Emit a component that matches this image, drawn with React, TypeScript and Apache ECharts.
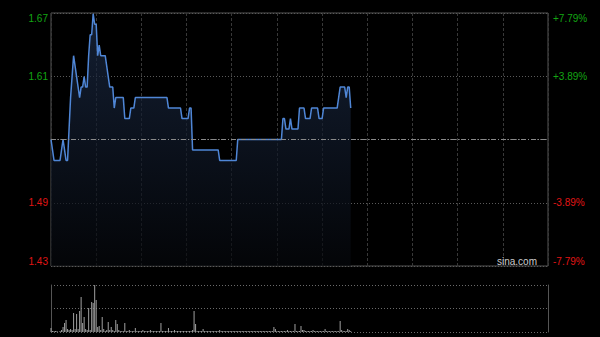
import React, { useEffect, useRef } from "react";
import * as echarts from "echarts";

// ---- data ----
const prevClose = 1.55;
const pctMax = 7.79;
const pctInterval = 3.895;
const leftTickLabels = ["1.43", "1.49", "", "1.61", "1.67"];
const rightTickLabels = ["-7.79%", "-3.89%", "", "+3.89%", "+7.79%"];
const tickColors = ["#e01515", "#e01515", "#888888", "#13a613", "#13a613"];

// one closing price per minute from 09:30
const prices = [
  1.55, 1.54, 1.53, 1.53, 1.53, 1.53, 1.53, 1.54, 1.55, 1.54,
  1.53, 1.53, 1.56, 1.59, 1.61, 1.63, 1.62, 1.61, 1.60, 1.59,
  1.60, 1.60, 1.61, 1.60, 1.60, 1.63, 1.65, 1.65, 1.67, 1.66,
  1.66, 1.63, 1.64, 1.63, 1.63, 1.63, 1.63, 1.62, 1.61, 1.60,
  1.60, 1.60, 1.58, 1.59, 1.59, 1.59, 1.59, 1.59, 1.59, 1.57,
  1.57, 1.57, 1.57, 1.58, 1.58, 1.58, 1.59, 1.59, 1.59, 1.59,
  1.59, 1.59, 1.59, 1.59, 1.59, 1.59, 1.59, 1.59, 1.59, 1.59,
  1.59, 1.59, 1.59, 1.59, 1.59, 1.59, 1.59, 1.59, 1.58, 1.58,
  1.58, 1.58, 1.58, 1.58, 1.58, 1.58, 1.58, 1.57, 1.57, 1.57,
  1.57, 1.57, 1.58, 1.58, 1.54, 1.54, 1.54, 1.54, 1.54, 1.54,
  1.54, 1.54, 1.54, 1.54, 1.54, 1.54, 1.54, 1.54, 1.54, 1.54,
  1.54, 1.54, 1.53, 1.53, 1.53, 1.53, 1.53, 1.53, 1.53, 1.53,
  1.53, 1.53, 1.53, 1.53, 1.55, 1.55, 1.55, 1.55, 1.55, 1.55,
  1.55, 1.55, 1.55, 1.55, 1.55, 1.55, 1.55, 1.55, 1.55, 1.55,
  1.55, 1.55, 1.55, 1.55, 1.55, 1.55, 1.55, 1.55, 1.55, 1.55,
  1.55, 1.55, 1.55, 1.55, 1.57, 1.57, 1.56, 1.56, 1.56, 1.57,
  1.56, 1.56, 1.56, 1.56, 1.56, 1.58, 1.58, 1.58, 1.58, 1.57,
  1.57, 1.57, 1.57, 1.58, 1.58, 1.58, 1.58, 1.58, 1.57, 1.57,
  1.57, 1.58, 1.58, 1.58, 1.58, 1.58, 1.58, 1.58, 1.58, 1.58,
  1.58, 1.59, 1.60, 1.60, 1.60, 1.60, 1.59, 1.60, 1.60, 1.58,
];

// volume per minute (thousand shares)
const volumes = [
  68, 17, 17, 17, 17, 0, 17, 34, 85, 153,
  204, 51, 34, 51, 34, 323, 51, 306, 51, 357,
  595, 153, 255, 51, 34, 408, 34, 510, 493, 799,
  544, 85, 102, 34, 255, 51, 17, 34, 170, 34,
  85, 34, 17, 204, 136, 34, 17, 17, 17, 153,
  17, 17, 34, 17, 17, 17, 68, 17, 17, 17,
  17, 34, 17, 17, 17, 17, 34, 17, 17, 17,
  17, 17, 17, 153, 17, 17, 17, 17, 68, 17,
  17, 17, 34, 17, 17, 17, 17, 17, 17, 17,
  17, 17, 17, 17, 34, 357, 136, 17, 17, 17,
  17, 51, 17, 17, 17, 17, 17, 17, 17, 17,
  17, 17, 34, 17, 17, 17, 17, 17, 17, 17,
  17, 17, 17, 17, 17, 17, 17, 17, 17, 17,
  17, 17, 17, 17, 17, 17, 17, 17, 17, 17,
  17, 17, 17, 17, 17, 17, 17, 17, 85, 51,
  17, 17, 17, 17, 17, 17, 17, 34, 17, 17,
  17, 17, 136, 17, 17, 17, 102, 34, 34, 17,
  17, 17, 17, 17, 34, 17, 17, 17, 17, 17,
  17, 17, 51, 17, 17, 17, 17, 17, 17, 17,
  17, 17, 187, 34, 17, 17, 17, 51, 34, 17,
];

const volMax = 800;
const volInterval = 400;

// trading-minute categories: 09:30-12:00, 13:01-16:00
function buildTimes(): string[] {
  const out: string[] = [];
  const pad = (n: number) => (n < 10 ? "0" + n : "" + n);
  for (let m = 9 * 60 + 30; m <= 12 * 60; m++) out.push(pad(Math.floor(m / 60)) + ":" + pad(m % 60));
  for (let m = 13 * 60 + 1; m <= 16 * 60; m++) out.push(pad(Math.floor(m / 60)) + ":" + pad(m % 60));
  return out;
}
const times = buildTimes();

const FONT = "'Liberation Sans', Arial, sans-serif";

export default function App() {
  const ref = useRef<HTMLDivElement>(null);

  useEffect(() => {
    document.body.style.margin = "0";
    document.body.style.background = "#000";
    if (!ref.current) return;
    const chart = echarts.init(ref.current, undefined, { renderer: "svg" });
    const tickIndex = (v: any) => Math.round((parseFloat(v) + pctMax) / pctInterval);

    const pct = prices.map((p) => +(((p / prevClose) - 1) * 100).toFixed(4));

    chart.setOption({
      animation: false,
      backgroundColor: "#000",
      textStyle: { fontFamily: FONT },
      grid: [
        { left: 51, top: 13, width: 497, height: 253, show: true, borderColor: "#555", borderWidth: 1, backgroundColor: "transparent" },
        { left: 51, top: 285, width: 497, height: 47, show: false },
      ],
      xAxis: [
        {
          type: "category", gridIndex: 0, data: times, boundaryGap: false,
          axisLine: { show: false }, axisTick: { show: false }, axisLabel: { show: false },
          splitLine: { show: true, interval: 29, lineStyle: { color: "#383838", type: [3, 2], width: 1 } },
        },
        {
          type: "category", gridIndex: 1, data: times, boundaryGap: false,
          axisLine: { show: false }, axisTick: { show: false }, axisLabel: { show: false },
          splitLine: { show: false },
        },
      ],
      yAxis: [
        {
          type: "value", gridIndex: 0, position: "left", min: -pctMax, max: pctMax, interval: pctInterval,
          axisLine: { show: false }, axisTick: { show: false },
          splitLine: { show: true, lineStyle: { color: "#5a5a5a", type: [1, 2], width: 1 } },
          axisLabel: {
            show: true, margin: 3, fontSize: 10, fontFamily: FONT,
            formatter: (v: any) => leftTickLabels[tickIndex(v)] ?? "",
            color: (v: any) => tickColors[tickIndex(v)] ?? "#888",
            verticalAlignMinLabel: "bottom", verticalAlignMaxLabel: "top",
          },
        },
        {
          type: "value", gridIndex: 0, position: "right", min: -pctMax, max: pctMax, interval: pctInterval,
          axisLine: { show: false }, axisTick: { show: false }, splitLine: { show: false },
          axisLabel: {
            show: true, margin: 5, fontSize: 10, fontFamily: FONT,
            formatter: (v: any) => rightTickLabels[tickIndex(v)] ?? "",
            color: (v: any) => tickColors[tickIndex(v)] ?? "#888",
            verticalAlignMinLabel: "bottom", verticalAlignMaxLabel: "top",
          },
        },
        {
          type: "value", gridIndex: 1, position: "left", min: 0, max: volMax, interval: volInterval,
          axisLine: { show: true, lineStyle: { color: "#555", width: 1 } }, axisTick: { show: false }, axisLabel: { show: false },
          splitLine: { show: true, lineStyle: { color: "#6a6a6a", type: [1, 2], width: 1 } },
        },
        {
          type: "value", gridIndex: 1, position: "right", min: 0, max: volMax, interval: volInterval,
          axisLine: { show: true, lineStyle: { color: "#555", width: 1 } }, axisTick: { show: false }, axisLabel: { show: false },
          splitLine: { show: false },
        },
      ],
      series: [
        {
          type: "line", xAxisIndex: 0, yAxisIndex: 0, data: pct, showSymbol: false, symbol: "none",
          lineStyle: { color: "#4f86d6", width: 1.5 },
          areaStyle: {
            origin: "start",
            color: new echarts.graphic.LinearGradient(0, 0, 0, 1, [
              { offset: 0, color: "#1c2c48" },
              { offset: 1, color: "#05070b" },
            ]),
          },
          markLine: {
            silent: true, symbol: ["none", "none"], label: { show: false },
            lineStyle: { color: "#8a8a8a", type: [5, 2, 1, 2], width: 1 },
            data: [{ yAxis: 0 }],
          },
          z: 3,
        },
        {
          type: "bar", xAxisIndex: 1, yAxisIndex: 2, data: volumes, barWidth: 1,
          itemStyle: { color: "#a0a0a0" },
        },
      ],
      graphic: [
        {
          type: "text", x: 537, y: 261,
          style: { text: "sina.com", fill: "#cccccc", font: "10px " + FONT, align: "right", verticalAlign: "middle" },
          z: 10,
        },
      ],
    });
    return () => chart.dispose();
  }, []);

  return <div ref={ref} style={{ width: 600, height: 337, background: "#000" }} />;
}
